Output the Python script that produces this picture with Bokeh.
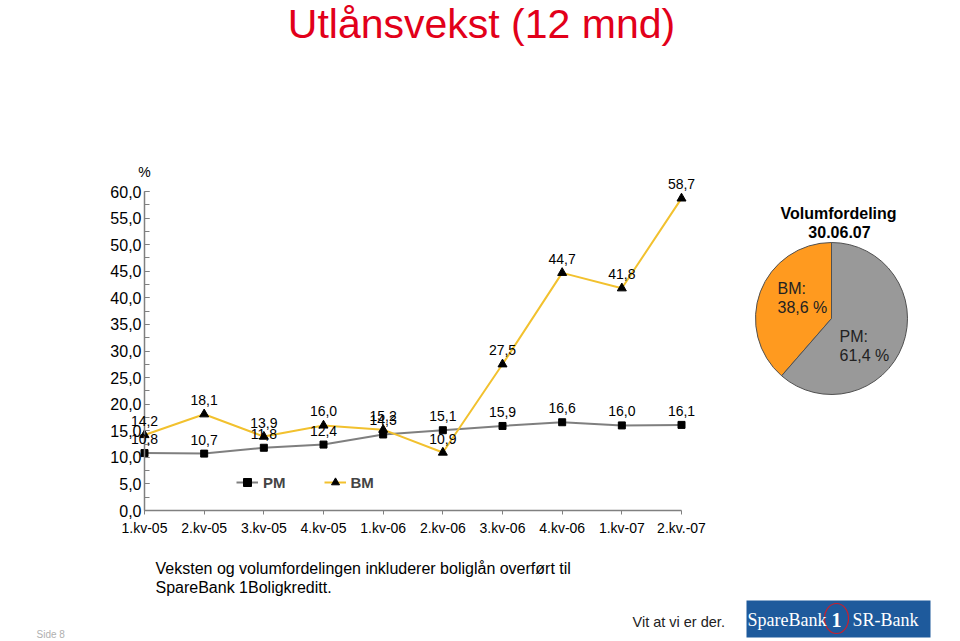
from math import pi
from bokeh.plotting import figure
from bokeh.models import (Range1d, FixedTicker, SingleIntervalTicker, CustomJSTickFormatter,
                          LabelSet, ColumnDataSource, Legend, LegendItem)
from bokeh.embed import file_html
from bokeh.resources import INLINE
from bokeh.core.properties import value

# ---------------- data ----------------
quarters = ["1.kv-05", "2.kv-05", "3.kv-05", "4.kv-05", "1.kv-06",
            "2.kv-06", "3.kv-06", "4.kv-06", "1.kv-07", "2.kv.-07"]
pm_growth = [10.8, 10.7, 11.8, 12.4, 14.3, 15.1, 15.9, 16.6, 16.0, 16.1]
bm_growth = [14.2, 18.1, 13.9, 16.0, 15.2, 10.9, 27.5, 44.7, 41.8, 58.7]
y_max = 60
pie_names = ["BM", "PM"]
pie_shares = [38.6, 61.4]
pie_colors = ["#FF9A1F", "#999999"]

FONT = "Liberation Sans"
W, H = 960, 641

def fmt(v):
    return f"{v:.1f}".replace(".", ",")

# line-chart placement on the canvas (pixels): category 0 -> x0, last -> x1 ; 0 -> yb, y_max -> yt
x0, x1, yb, yt = 144, 681, 510, 191
ux = (x1 - x0) / (len(quarters) - 1)
uy = (yb - yt) / y_max
x_range = Range1d(-x0 / ux, (W - x0) / ux)
y_range = Range1d(-(H - yb) / uy, yb / uy)

p = figure(width=W, height=H, x_range=x_range, y_range=y_range,
           output_backend="svg", toolbar_location=None, min_border=0)
p.extra_x_ranges = {"px": Range1d(0, W)}
p.extra_y_ranges = {"py": Range1d(0, H)}
p.outline_line_color = None
p.grid.grid_line_color = None
p.background_fill_color = "white"
p.border_fill_color = "white"
p.title.visible = False

xs = list(range(len(quarters)))
p.xaxis.fixed_location = 0
p.yaxis.fixed_location = 0
p.xaxis.bounds = (0, len(quarters) - 1)
p.yaxis.bounds = (0, y_max)
p.xaxis.ticker = FixedTicker(ticks=xs)
p.xaxis.major_label_overrides = {i: q for i, q in enumerate(quarters)}
p.yaxis.ticker = SingleIntervalTicker(interval=5, num_minor_ticks=2)
p.yaxis.formatter = CustomJSTickFormatter(code="return tick.toFixed(1).replace('.', ',')")
for ax in (p.xaxis, p.yaxis):
    ax.axis_line_color = "#808080"
    ax.axis_line_width = 1.5
    ax.major_tick_line_color = "#808080"
    ax.minor_tick_line_color = "#808080"
    ax.major_label_text_font = FONT
    ax.major_label_text_color = "black"
p.yaxis.major_tick_in = 5
p.yaxis.major_tick_out = 0
p.yaxis.minor_tick_in = 5
p.yaxis.minor_tick_out = 0
p.yaxis.major_label_standoff = 3
p.yaxis.major_label_text_font_size = "16px"
p.xaxis.major_tick_in = 0
p.xaxis.major_tick_out = 4
p.xaxis.minor_tick_line_color = None
p.xaxis.major_label_standoff = 5
p.xaxis.major_label_text_font_size = "14px"

pm_line = p.line(xs, pm_growth, line_color="#7F7F7F", line_width=2)
pm_mark = p.scatter(xs, pm_growth, marker="square", size=7, fill_color="black", line_color="black")
bm_line = p.line(xs, bm_growth, line_color="#F2C12E", line_width=2)
bm_mark = p.scatter(xs, bm_growth, marker="triangle", size=9, fill_color="black", line_color="black")

src = ColumnDataSource(dict(x=xs + xs, y=pm_growth + bm_growth,
                            t=[fmt(v) for v in pm_growth] + [fmt(v) for v in bm_growth]))
p.add_layout(LabelSet(x="x", y="y", text="t", source=src, y_offset=9,
                      text_align="center", text_baseline="bottom",
                      text_font=value(FONT), text_font_size="14px", text_color="black"))

legend = Legend(items=[LegendItem(label="PM", renderers=[pm_line, pm_mark]),
                       LegendItem(label="BM", renderers=[bm_line, bm_mark])],
                orientation="horizontal", location=(236, H - 482 - 10),
                border_line_alpha=0, background_fill_alpha=0,
                label_text_font=FONT, label_text_font_style="bold", label_text_font_size="15px",
                glyph_width=22, glyph_height=20, label_height=20,
                spacing=38, padding=0, margin=0, label_standoff=5)
p.add_layout(legend)

def txt(x, y_top, s, size="15px", bold=False, align="left", color="black", font=FONT):
    p.text(x=[x], y=[H - y_top], text=[s], x_range_name="px", y_range_name="py",
           text_font=value(font), text_font_size=size,
           text_font_style="bold" if bold else "normal",
           text_align=align, text_baseline="middle", text_color=color)

# title and unit
txt(481, 23, "Utlånsvekst (12 mnd)", size="41px", align="center", color="#E2001A")
txt(144, 171, "%", size="14px", align="center")

# ---------------- pie ----------------
cx, cy, r = 831, 318, 76
starts, ends = [], []
a = pi / 2
for s in pie_shares:
    starts.append(a)
    a += 2 * pi * s / 100.0
    ends.append(a)
p.wedge(x=cx, y=H - cy, radius=r, start_angle=starts, end_angle=ends, direction="anticlock",
        fill_color=pie_colors, line_color="#505050", line_width=1,
        x_range_name="px", y_range_name="py")
txt(838, 213, "Volumfordeling", size="16px", bold=True, align="center")
txt(839, 231, "30.06.07", size="16px", bold=True, align="center")
for name, share, (sx, sy) in zip(pie_names, pie_shares, [(777, 288), (839, 336)]):
    txt(sx, sy, name + ":", size="16px", color="#222222")
    txt(sx, sy + 19, fmt(share) + " %", size="16px", color="#222222")

# ---------------- bottom ----------------
txt(155, 568, "Veksten og volumfordelingen inkluderer boliglån overført til", size="16px")
txt(155, 587, "SpareBank 1Boligkreditt.", size="16px")
txt(36, 634, "Side 8", size="10px", color="#B0B0B0")
txt(632, 621, "Vit at vi er der.", size="14.5px", color="#222222")
p.rect(x=[838], y=[H - 618.5], width=184, height=37, fill_color="#1E5A9C", line_color=None,
       x_range_name="px", y_range_name="py")
p.ellipse(x=[836], y=[H - 618], width=24, height=30, fill_color=None, line_color="#C8202E",
          line_width=1.2, x_range_name="px", y_range_name="py")
txt(826, 619, "SpareBank", size="18px", align="right", color="white", font="Liberation Serif")
txt(836, 619, "1", size="20px", bold=True, align="center", color="white", font="Liberation Serif")
txt(852, 619, "SR-Bank", size="18px", align="left", color="white", font="Liberation Serif")

open("out.html", "w").write(file_html(p, INLINE))
